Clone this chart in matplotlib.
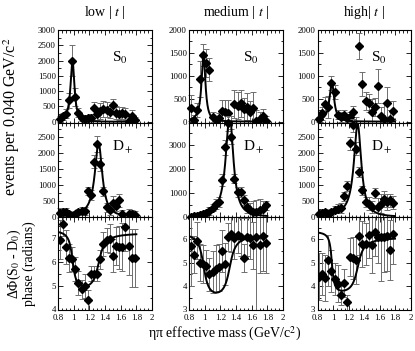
import numpy as np
import matplotlib
matplotlib.use("Agg")
import matplotlib.pyplot as plt
from matplotlib.ticker import MultipleLocator

plt.rcParams['font.family'] = ['Liberation Serif', 'DejaVu Serif']
plt.rcParams['mathtext.fontset'] = 'stix'

# eta-pi mass bins (GeV/c^2)
mass = [0.82, 0.86, 0.90, 0.94, 0.98, 1.02, 1.06, 1.10, 1.14, 1.18, 1.22, 1.26, 1.30,
        1.34, 1.38, 1.42, 1.46, 1.50, 1.54, 1.58, 1.62, 1.66, 1.70, 1.74, 1.78]

col_titles = ["low | $t$ |", "medium | $t$ |", "high| $t$ |"]

# S0 wave intensity
s0_low = [100, 180, 270, 700, 2000, 820, 300, 120, 100, 110, 120, 450, 250,
          350, 420, 400, 320, 550, 300, 270, 280, 250, 30, 200, 60]
s0_low_err = [100, 120, 150, 250, 500, 300, 150, 100, 100, 100, 150, 200, 200,
              250, 250, 250, 200, 200, 200, 200, 200, 200, 150, 200, 100]
s0_med = [300, 40, 250, 930, 1450, 1280, 1130, 100, 30, 80, 230, 220, 180,
          -120, 380, 350, 400, 270, 330, 200, 300, 10, 60, 130, 20]
s0_med_err = [280, 100, 150, 400, 240, 300, 250, 100, 80, 100, 250, 250, 300,
              250, 300, 300, 300, 250, 300, 250, 350, 250, 150, 150, 100]
s0_high = [50, 180, 380, 320, 850, 640, 150, 100, 150, 80, 100, 200, -100,
           1650, 820, 450, 400, 200, 320, 780, 130, 50, 400, 60, 240]
s0_high_err = [60, 150, 150, 250, 150, 150, 100, 100, 100, 80, 100, 150, 200,
               280, 270, 200, 200, 300, 200, 370, 200, 350, 350, 200, 200]

# D+ wave intensity
dp_low = [130, 150, 150, 90, 20, 100, 150, 200, 180, 800, 680, 1720, 2270,
          1640, 800, 300, 220, 450, 350, 520, 80, -300, 100, 80, 50]
dp_low_err = [150, 120, 120, 100, 100, 100, 100, 100, 120, 120, 150, 200, 250,
              200, 150, 150, 150, 200, 150, 200, 150, 200, 150, 150, 150]
dp_med = [0, 40, 60, 100, 130, 160, 250, 380, 550, 620, 1560, 2900, 3900,
          3350, 1600, 1050, 1050, 700, 420, 280, 200, 200, 280, 330, 480]
dp_med_err = [80, 80, 80, 100, 100, 120, 150, 150, 200, 200, 250, 300, 300,
              300, 200, 200, 200, 200, 250, 300, 450, 500, 450, 350, 200]
dp_high = [80, 125, 150, 100, 150, 230, 260, 290, 640, 960, 2300, 2860, 2130,
           1400, 830, 470, 415, 310, 750, 300, 420, 570, 470, 520, 450]
dp_high_err = [80, 80, 100, 100, 100, 120, 150, 150, 150, 150, 200, 200, 200,
               150, 150, 150, 200, 200, 150, 300, 300, 250, 250, 200, 200]

# phase difference S0 - D0 (radians)
ph_low = [6.92, 7.58, 6.60, 6.15, 6.10, 5.70, 5.10, 4.85, 5.00, 4.40, 5.50, 5.50, 5.50,
          6.10, 6.75, 6.90, 6.95, 6.25, 6.65, 6.60, 6.60, 7.45, 6.65, 6.15, 6.15]
ph_low_err = [0.8, 0.5, 0.7, 0.6, 0.5, 0.5, 0.5, 0.4, 0.5, 0.4, 0.3, 0.3, 0.3,
              0.4, 0.5, 0.5, 0.6, 0.7, 0.8, 0.9, 1.0, 1.0, 1.2, 1.2, 1.2]
ph_med = [5.70, 5.35, 5.95, 5.00, 4.95, 4.85, 4.50, 4.60, 4.75, 4.80, 5.50, 4.95, 6.10,
          6.25, 6.05, 6.20, 6.10, 5.20, 6.10, 6.05, 5.75, 6.10, 5.75, 6.15, 5.85]
ph_med_err = [1.7, 0.8, 0.8, 0.8, 0.8, 0.7, 0.7, 0.9, 1.0, 1.0, 0.9, 0.9, 0.6,
              0.8, 0.9, 0.8, 0.8, 0.6, 0.8, 0.9, 1.0, 4.0, 1.2, 1.5, 1.3]
ph_high = [4.40, 4.50, 4.35, 5.10, 4.65, 4.30, 4.10, 3.60, 4.15, 3.30, 5.25, 5.20, 5.10,
           6.15, 5.80, 5.80, 6.20, 5.75, 6.30, 6.10, 6.10, 6.10, 6.15, 5.55, 6.25]
ph_high_err = [1.0, 0.9, 1.0, 1.1, 0.9, 0.7, 0.8, 0.4, 0.6, 0.3, 0.8, 0.9, 1.0,
               0.8, 1.0, 0.9, 1.0, 1.2, 1.0, 1.1, 1.9, 1.5, 1.5, 1.3, 1.3]

# fit parameters (Breit-Wigner a0(980) and a2(1320))
a0_mass, a2_mass = 0.985, 1.318
a0_width = [0.06, 0.06, 0.07]
a2_width = 0.115
s0_peak = [2000, 1450, 870]
dp_peak = [2300, 4300, 2900]
ph_offset = [7.3, 6.3, 6.3]
ph_amp_s = [2.8, 3.2, 2.9]
ph_amp_d = [2.7, 3.1, 2.7]
ph_width_s = [0.07, 0.10, 0.045]

# axis ranges
top_ylim = [(-40, 3000), (-30, 2000), (-30, 2000)]
mid_ylim = [(0, 2930), (0, 3920), (0, 2930)]
bot_ylim = [(4, 7.86), (3, 6.96), (3, 6.96)]
top_step = [500, 500, 500]
mid_step = [500, 1000, 500]


def bw_int(m, m0, g):
    return (m0 * g) ** 2 / ((m0 ** 2 - m ** 2) ** 2 + (m0 * g) ** 2)


def bw_phase(m, m0, g):
    return np.arctan2(m0 * g, m0 ** 2 - m ** 2)


m_fine = np.linspace(0.8, 1.8, 400)

fig = plt.figure(figsize=(4.15, 3.51), dpi=100)
W, H = 415.0, 351.0
lefts = [58, 189, 317.5]
widths = [94, 94, 93]
rows = [(30, 123), (123, 217), (217, 309.5)]

count_data = [
    [(s0_low, s0_low_err), (s0_med, s0_med_err), (s0_high, s0_high_err)],
    [(dp_low, dp_low_err), (dp_med, dp_med_err), (dp_high, dp_high_err)],
]
phase_data = [(ph_low, ph_low_err), (ph_med, ph_med_err), (ph_high, ph_high_err)]
err_color = '#6e6e6e'

for c in range(3):
    for r in range(3):
        y0, y1 = rows[r]
        ax = fig.add_axes([lefts[c] / W, 1 - y1 / H, widths[c] / W, (y1 - y0) / H])
        ax.set_xlim(0.8, 2.0)
        ax.xaxis.set_major_locator(MultipleLocator(0.2))
        ax.xaxis.set_minor_locator(MultipleLocator(0.05))
        ax.tick_params(which='both', direction='in', top=True, right=True,
                       labelsize=6.3, pad=1.5, width=0.6)
        ax.tick_params(axis='x', pad=3.2)
        ax.tick_params(which='major', length=3.5)
        ax.tick_params(which='minor', length=1.8)
        for sp in ax.spines.values():
            sp.set_linewidth(0.8)
        if r < 2:
            vals, errs = count_data[r][c]
            if r == 0:
                ax.set_ylim(*top_ylim[c])
                ax.yaxis.set_major_locator(MultipleLocator(top_step[c]))
                ax.yaxis.set_minor_locator(MultipleLocator(top_step[c] / 2))
                fit = s0_peak[c] * bw_int(m_fine, a0_mass, a0_width[c])
                ax.text(0.57, 0.70, "S$_0$", transform=ax.transAxes, fontsize=11, va='center')
            else:
                ax.set_ylim(*mid_ylim[c])
                ax.yaxis.set_major_locator(MultipleLocator(mid_step[c]))
                ax.yaxis.set_minor_locator(MultipleLocator(mid_step[c] / 2))
                fit = dp_peak[c] * bw_int(m_fine, a2_mass, a2_width)
                ax.text(0.57, 0.74, "D$_+$", transform=ax.transAxes, fontsize=11, va='center')
            eb = ax.errorbar(mass, vals, yerr=errs, fmt='none', ecolor=err_color,
                             elinewidth=0.7, capsize=2.2, capthick=0.7)
            for art in eb.lines[1] + eb.lines[2]:
                art.set_clip_on(False)
            ax.plot(mass, vals, 'D', color='black', ms=3.7, clip_on=False, zorder=4)
            ax.plot(m_fine, fit, color='black', lw=1.4, zorder=3)
            ax.set_xticklabels([])
        else:
            vals, errs = phase_data[c]
            ax.set_ylim(*bot_ylim[c])
            ax.yaxis.set_major_locator(MultipleLocator(1))
            ax.yaxis.set_minor_locator(MultipleLocator(0.5))
            ax.errorbar(mass, vals, yerr=errs, fmt='none', ecolor=err_color,
                        elinewidth=0.7, capsize=2.2, capthick=0.7)
            ax.plot(mass, vals, 'D', color='black', ms=3.7, zorder=4)
            fit = (ph_offset[c]
                   - ph_amp_s[c] * bw_phase(m_fine, a0_mass, ph_width_s[c]) / np.pi
                   + ph_amp_d[c] * bw_phase(m_fine, a2_mass, a2_width) / np.pi)
            ax.plot(m_fine, fit, color='black', lw=1.4, zorder=3)
            ax.set_xticks([0.8, 1.0, 1.2, 1.4, 1.6, 1.8, 2.0])
            ax.set_xticklabels(["0.8", "1", "1.2", "1.4", "1.6", "1.8", "2"])
        if r == 0:
            ax.set_title(col_titles[c], fontsize=10, pad=10)

fig.text(12 / W, 1 - 117 / H, "events per 0.040 GeV/c$^2$", rotation=90,
         ha='center', va='center', fontsize=11.5)
fig.text(14 / W, 1 - 264 / H, "ΔΦ(S$_0$ - D$_0$)", rotation=90,
         ha='center', va='center', fontsize=10)
fig.text(29 / W, 1 - 264 / H, "phase (radians)", rotation=90,
         ha='center', va='center', fontsize=10)
fig.text(225 / W, 1 - 334 / H, "ηπ effective mass (GeV/c$^2$)",
         ha='center', va='center', fontsize=10)

fig.savefig("out.png", dpi=100)
